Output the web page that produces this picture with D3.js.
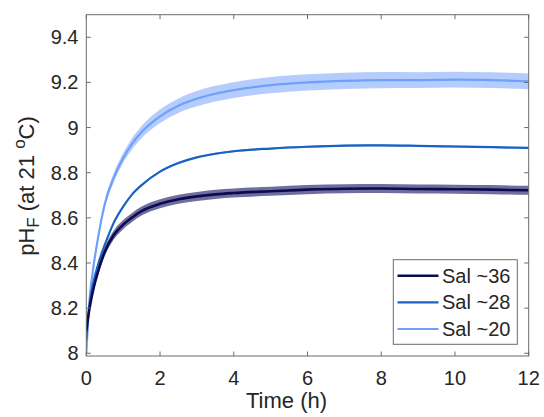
<!DOCTYPE html>
<html>
<head>
<meta charset="utf-8">
<script src="https://cdn.jsdelivr.net/npm/d3@7"></script>
<style>
  body { margin: 0; background: #fff; }
  svg text { font-family: "Liberation Sans", Arial, sans-serif; fill: #262626; }
</style>
</head>
<body>
<div id="chart"></div>
<script>
// time points (h) and mean pH for each salinity
const timeH = [0, 0.05, 0.1, 0.2, 0.35, 0.5, 0.75, 1, 1.25, 1.5, 2, 2.5, 3, 3.5, 4, 5, 6, 7, 8, 9, 10, 11, 12];
const sal36 = [8.10, 8.16, 8.21, 8.29, 8.38, 8.45, 8.525, 8.57, 8.603, 8.63, 8.662, 8.682, 8.695, 8.704, 8.71, 8.718, 8.725, 8.729, 8.73, 8.728, 8.727, 8.725, 8.722];
const sal28 = [8.06, 8.16, 8.23, 8.32, 8.41, 8.48, 8.58, 8.65, 8.705, 8.745, 8.805, 8.843, 8.868, 8.884, 8.895, 8.907, 8.915, 8.92, 8.921, 8.919, 8.916, 8.913, 8.91];
const sal20 = [8.00, 8.15, 8.26, 8.39, 8.54, 8.66, 8.78, 8.865, 8.93, 8.98, 9.05, 9.097, 9.128, 9.15, 9.166, 9.188, 9.2, 9.207, 9.21, 9.21, 9.212, 9.21, 9.205];
// spread (half width of shaded band)
const sd36 = [0.01, 0.012, 0.014, 0.016, 0.018, 0.02, 0.02, 0.02, 0.02, 0.02, 0.02, 0.02, 0.02, 0.02, 0.02, 0.02, 0.02, 0.02, 0.02, 0.02, 0.02, 0.02, 0.02];
const sd28 = [0.003, 0.003, 0.003, 0.003, 0.003, 0.004, 0.004, 0.004, 0.004, 0.004, 0.004, 0.004, 0.004, 0.004, 0.004, 0.004, 0.004, 0.004, 0.004, 0.004, 0.004, 0.004, 0.004];
const sd20 = [0.005, 0.008, 0.01, 0.013, 0.016, 0.018, 0.02, 0.022, 0.025, 0.027, 0.03, 0.032, 0.034, 0.035, 0.035, 0.036, 0.036, 0.036, 0.036, 0.035, 0.035, 0.035, 0.035];

const seriesNames = ["Sal ~36", "Sal ~28", "Sal ~20"];
const xTicks = [0, 2, 4, 6, 8, 10, 12];
const yTicks = [8, 8.2, 8.4, 8.6, 8.8, 9, 9.2, 9.4];

const width = 544, height = 417;
const plot = { left: 86.3, right: 528.7, top: 14.7, bottom: 356 };

const svg = d3.select("#chart").append("svg")
    .attr("width", width)
    .attr("height", height);

const xScale = d3.scaleLinear().domain([0, 12]).range([plot.left, plot.right]);
const yScale = d3.scaleLinear().domain([7.988, 9.5]).range([plot.bottom, plot.top]);

const series = [
    { name: seriesNames[0], mean: sal36, sd: sd36, line: "#0b0b50", band: "#6f6e9e", lw: 2.6 },
    { name: seriesNames[1], mean: sal28, sd: sd28, line: "#1a62c2", band: "#7aa6e0", lw: 2.2 },
    { name: seriesNames[2], mean: sal20, sd: sd20, line: "#6fa1fb", band: "#b5cdfd", lw: 2.2 }
];

svg.append("clipPath").attr("id", "clip")
  .append("rect")
    .attr("x", plot.left).attr("y", plot.top)
    .attr("width", plot.right - plot.left).attr("height", plot.bottom - plot.top);

const g = svg.append("g").attr("clip-path", "url(#clip)");

const area = d3.area()
    .x((d, i) => xScale(timeH[i]))
    .y0(d => yScale(d[0]))
    .y1(d => yScale(d[1]))
    .curve(d3.curveMonotoneX);

const line = d3.line()
    .x((d, i) => xScale(timeH[i]))
    .y(d => yScale(d))
    .curve(d3.curveMonotoneX);

// draw light first so dark ends on top
series.slice().reverse().forEach(s => {
    g.append("path")
        .datum(s.mean.map((m, i) => [m - s.sd[i], m + s.sd[i]]))
        .attr("d", area)
        .attr("fill", s.band);
    g.append("path")
        .datum(s.mean)
        .attr("d", line)
        .attr("fill", "none")
        .attr("stroke", s.line)
        .attr("stroke-width", s.lw);
});

// axes box
const axisColor = "#6b6b6b";
svg.append("rect")
    .attr("x", plot.left).attr("y", plot.top)
    .attr("width", plot.right - plot.left).attr("height", plot.bottom - plot.top)
    .attr("fill", "none").attr("stroke", axisColor).attr("stroke-width", 1);

const tickLen = 4.5;
xTicks.forEach(t => {
    const x = xScale(t);
    svg.append("line").attr("x1", x).attr("x2", x).attr("y1", plot.bottom).attr("y2", plot.bottom - tickLen).attr("stroke", axisColor);
    svg.append("line").attr("x1", x).attr("x2", x).attr("y1", plot.top).attr("y2", plot.top + tickLen).attr("stroke", axisColor);
    svg.append("text").attr("x", x).attr("y", 385)
        .attr("text-anchor", "middle").attr("font-size", 20).text(t);
});
yTicks.forEach(t => {
    const y = yScale(t);
    svg.append("line").attr("x1", plot.left).attr("x2", plot.left + tickLen).attr("y1", y).attr("y2", y).attr("stroke", axisColor);
    svg.append("line").attr("x1", plot.right).attr("x2", plot.right - tickLen).attr("y1", y).attr("y2", y).attr("stroke", axisColor);
    svg.append("text").attr("x", 78.5).attr("y", y + 7)
        .attr("text-anchor", "end").attr("font-size", 20).text(d3.format("~g")(t));
});

// axis labels
svg.append("text").attr("x", 286.5).attr("y", 408)
    .attr("text-anchor", "middle").attr("font-size", 22).text("Time (h)");

const yLab = svg.append("text")
    .attr("transform", "translate(34,186) rotate(-90)")
    .attr("text-anchor", "middle").attr("font-size", 22);
yLab.append("tspan").text("pH");
yLab.append("tspan").attr("font-size", 17).attr("dy", 5).text("F");
yLab.append("tspan").attr("dy", -5).text(" (at 21 ");
yLab.append("tspan").attr("font-size", 17).attr("dy", -9).text("o");
yLab.append("tspan").attr("dy", 9).text("C)");

// legend
const legend = svg.append("g");
legend.append("rect")
    .attr("x", 393.3).attr("y", 259.7).attr("width", 124).attr("height", 84.6)
    .attr("fill", "#fff").attr("stroke", axisColor).attr("stroke-width", 1);
series.forEach((s, i) => {
    const y = 275.8 + i * 26.6;
    legend.append("line").attr("x1", 397.5).attr("x2", 438.5).attr("y1", y).attr("y2", y)
        .attr("stroke", s.line).attr("stroke-width", s.lw);
    legend.append("text").attr("x", 442).attr("y", y + 7)
        .attr("font-size", 20).text(s.name);
});
</script>
</body>
</html>
